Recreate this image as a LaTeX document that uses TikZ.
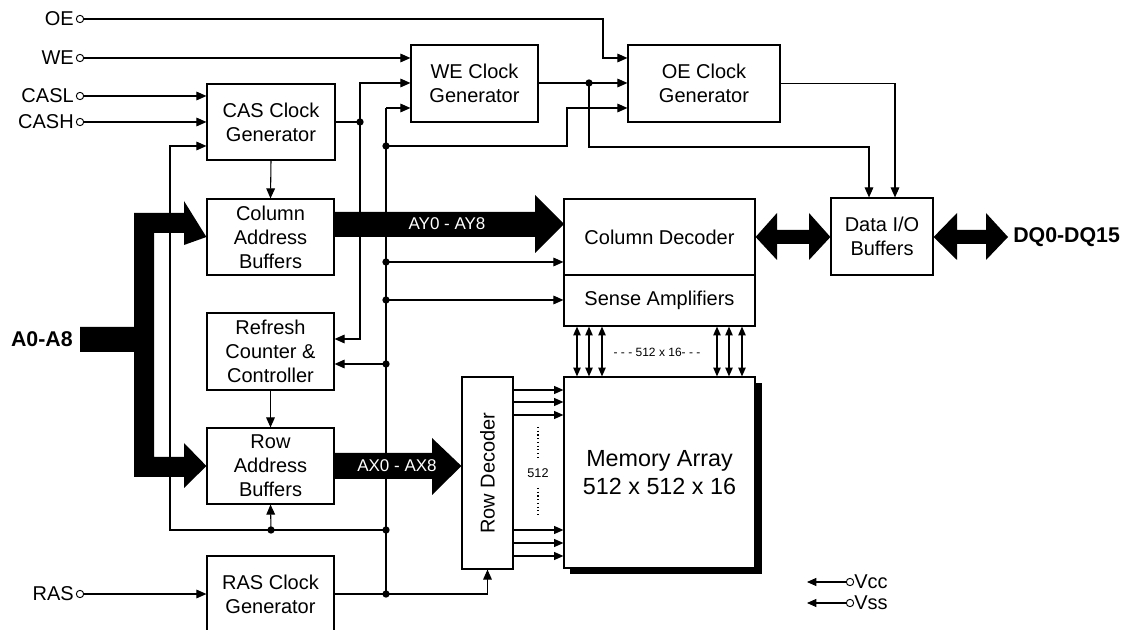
\documentclass[tikz,border=0pt]{standalone}
\usepackage{fontspec}
\setmainfont{Liberation Sans}
\usetikzlibrary{arrows.meta}
\begin{document}
\begin{tikzpicture}[x=0.75pt,y=-0.75pt,
  ln/.style={line width=0.8pt},
  box/.style={draw,line width=0.9pt,fill=white,align=center,inner sep=0pt,font=\fontsize{15}{18}\selectfont},
  wh/.style 2 args={minimum width=#1*0.75pt,minimum height=#2*0.75pt},
  arr/.style={ln,-{Triangle[length=7.5pt,width=6.5pt]}},
  sarr/.style={ln,-{Triangle[length=7pt,width=6pt]}},
  darr/.style={ln,{Triangle[length=6.5pt,width=5.5pt]}-{Triangle[length=6.5pt,width=5.5pt]}},
  jdot/.style={circle,fill=black,inner sep=0pt,minimum size=5.5pt},
  term/.style={circle,draw,line width=0.7pt,fill=white,inner sep=0pt,minimum size=5.5pt},
  sig/.style={anchor=east,inner sep=0pt,font=\fontsize{15}{18}\selectfont},
  buslbl/.style={text=white,inner sep=0pt,font=\fontsize{12.75}{15}\selectfont},
  boldlbl/.style={inner sep=0pt,font=\bfseries\fontsize{16}{19}\selectfont},
  small/.style={inner sep=0pt,font=\fontsize{9}{11}\selectfont},
]
\useasboundingbox (0,0) rectangle (1135,630);

% ---------- boxes ----------
\node[box,wh={128}{76}] (cas) at (271,122) {CAS Clock\\Generator};
\node[box,wh={127}{77}] (we) at (474.5,83.5) {WE Clock\\Generator};
\node[box,wh={152}{77}] (oe) at (704,83.5) {OE Clock\\Generator};
\node[box,wh={127}{76}] (cab) at (270.5,237) {Column\\Address\\Buffers};
\node[box,wh={127}{77}] (ref) at (270.5,351.5) {Refresh\\Counter \&\\Controller};
\node[box,wh={127}{76}] (rab) at (270.5,466) {Row\\Address\\Buffers};
\node[box,wh={127}{76}] (ras) at (270.5,594) {RAS Clock\\Generator};
\node[box,wh={191}{76}] (cd) at (659.5,237) {Column Decoder};
\node[box,wh={191}{51}] (sa) at (659.5,300.5) {Sense Amplifiers};
\node[box,wh={102}{77}] (dio) at (882,236.5) {Data I/O\\Buffers};
\node[box,wh={51}{192}] (rd) at (487.5,473) {};
\node[rotate=90,inner sep=0pt,font=\fontsize{15}{18}\selectfont] (rdl) at (rd) {Row Decoder};
\fill (570,383) rectangle (762,574);
\node[box,wh={191}{191},font=\fontsize{17.5}{21}\selectfont] (mem) at (659.5,472.5) {Memory Array\\512 x 512 x 16};

% ---------- terminals ----------
\node[term] (oeT) at (80,19) {};
\node[sig] (oeL) at (74,19) {OE};
\node[term] (weT) at (80,58) {};
\node[sig] (weL) at (74,58) {WE};
\node[term] (caslT) at (80,96) {};
\node[sig] (caslL) at (74,96) {CASL};
\node[term] (cashT) at (80,122) {};
\node[sig] (cashL) at (74,122) {CASH};
\node[term] (rasT) at (80,594) {};
\node[sig] (rasL) at (74,594) {RAS};

% ---------- junctions ----------
\node[jdot] (j1) at (360,122) {};
\node[jdot] (j2) at (386,146) {};
\node[jdot] (j3) at (386,262) {};
\node[jdot] (j4) at (386,300) {};
\node[jdot] (j5) at (386,364) {};
\node[jdot] (j6) at (386,530) {};
\node[jdot] (j7) at (271,530) {};
\node[jdot] (j8) at (386,594) {};
\node[jdot] (j9) at (589,83) {};

% ---------- thin control lines ----------
\draw[arr] (oeT.east) -- (603,19) -- (603,58) -- (oe.west |- 0,58);
\draw[arr] (weT.east) -- (we.west |- weT);
\draw[arr] (caslT.east) -- (cas.west |- caslT);
\draw[arr] (cashT.east) -- (cas.west |- cashT);
\draw[ln] (cas.east |- j1) -- (j1.center);
\draw[arr] (j1.center) -- (360,83) -- (we.west |- 0,83);
\draw[arr] (j1.center) -- (360,339) -- (ref.east |- 0,339);
\draw[ln] (386,108) -- (j8.center);
\draw[arr] (386,108) -- (we.west |- 0,108);
\draw[arr] (j2.center) -| (567,108) -- (oe.west |- 0,108);
\draw[arr] (j3.center) -- (cd.west |- j3);
\draw[arr] (j4.center) -- (sa.west |- j4);
\draw[arr] (j5.center) -- (ref.east |- j5);
\draw[arr] (j6.center) -- (170,530) -- (170,146) -- (cas.west |- 0,146);
\draw[arr] (j7.center) -- (rab.south);
\draw[arr] (cas.south) -- (cab.north);
\draw[arr] (ref.south) -- (rab.north);
\draw[arr] (rasT.east) -- (ras.west |- rasT);
\draw[arr] (ras.east) -| (rd.south);
\draw[arr] (we.east |- j9) -- (oe.west |- j9);
\draw[arr] (j9.center) |- (869,147) -- (869,0 |- dio.north);
\draw[arr] (oe.east) -| (895,0 |- dio.north);

% row decoder -> memory array
\foreach \y in {390,402,415,530,543,556}
  \draw[sarr] (rd.east |- 0,\y) -- (mem.west |- 0,\y);
\draw[ln,dotted] (538,427) -- (538,457);
\draw[ln,dotted] (538,488) -- (538,515);
\node[small,font=\fontsize{9.5}{11}\selectfont] (n512) at (538,473) {512};

% sense amps <-> memory array
\foreach \x in {577,589,602,717,729,742}
  \draw[darr] (\x,0 |- sa.south) -- (\x,0 |- mem.north);
\node[small] (n51216) at (657,352) {- - - 512 x 16- - -};

% ---------- buses ----------
\fill (80,327) -- (134,327) -- (134,213) -- (184,213) -- (184,201) -- (cab.west) -- (184,245) -- (184,233)
  -- (154,233) -- (154,457) -- (184,457) -- (184,443) -- (rab.west) -- (184,488) -- (184,477)
  -- (134,477) -- (134,352) -- (80,352) -- cycle;
\node[boldlbl,anchor=east] (a08) at (73,339) {A0-A8};

\fill (cab.east |- 0,212) -- (535,212) -- (535,195) -- (564,224) -- (535,253) -- (535,237) -- (cab.east |- 0,237) -- cycle;
\node[buslbl] (ay) at (447,224) {AY0 - AY8};

\fill (rab.east |- 0,453) -- (432,453) -- (432,438) -- (rd.west |- 0,466) -- (432,495) -- (432,479) -- (rab.east |- 0,479) -- cycle;
\node[buslbl] (ax) at (397,466) {AX0 - AX8};

% double bus arrows
\fill (cd.east |- 0,237) -- (777,213) -- (777,230) -- (809,230) -- (809,213) -- (dio.west |- 0,237)
  -- (809,260) -- (809,244) -- (777,244) -- (777,260) -- cycle;
\fill (dio.east |- 0,237) -- (957,213) -- (957,230) -- (986,230) -- (986,213) -- (1008,237)
  -- (986,260) -- (986,244) -- (957,244) -- (957,260) -- cycle;
\node[boldlbl,anchor=west] (dq) at (1013,237) {DQ0-DQ15};

% ---------- power ----------
\node[term] (vccT) at (850,582) {};
\node[sig,anchor=west] (vccL) at (854,582) {Vcc};
\draw[sarr] (vccT.west) -- (807,582);
\node[term] (vssT) at (850,603) {};
\node[sig,anchor=west] (vssL) at (854,603) {Vss};
\draw[sarr] (vssT.west) -- (807,603);
\end{tikzpicture}
\end{document}
